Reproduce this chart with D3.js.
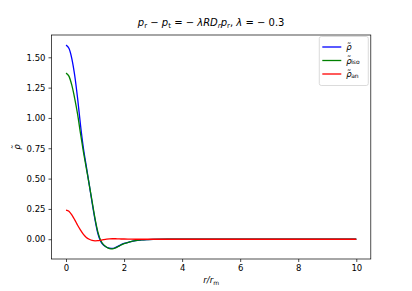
<!DOCTYPE html>
<html>
<head>
<meta charset="utf-8">
<script src="https://cdn.jsdelivr.net/npm/d3@7"></script>
<style>
  body { margin: 0; background: #fff; }
  svg text { font-family: "DejaVu Sans", sans-serif; }
</style>
</head>
<body>
<div id="chart"></div>
<script>
// Radius values (r / r_m) and the three density profiles
const rValues = [0, 0.1, 0.2, 0.3, 0.4, 0.5, 0.6, 0.7, 0.8, 0.9, 1.0, 1.1, 1.2, 1.3, 1.4, 1.5, 1.6, 1.7, 1.8, 1.9, 2.0, 2.2, 2.4, 2.6, 2.8, 3.0, 3.5, 4, 5, 6, 7, 8, 9, 10];
const rhoTotal = [1.60, 1.575, 1.49, 1.35, 1.16, 0.94, 0.75, 0.60, 0.45, 0.30, 0.16, 0.045, -0.02, -0.05, -0.066, -0.074, -0.076, -0.069, -0.057, -0.045, -0.035, -0.021, -0.011, -0.006, -0.003, -0.001, 0, 0, 0, 0, 0, 0, 0, 0];
const rhoIso = [1.37, 1.345, 1.27, 1.16, 1.03, 0.87, 0.72, 0.585, 0.45, 0.31, 0.17, 0.057, -0.012, -0.047, -0.066, -0.077, -0.079, -0.072, -0.06, -0.047, -0.037, -0.022, -0.012, -0.006, -0.003, -0.001, 0, 0, 0, 0, 0, 0, 0, 0];
const rhoAn = [0.24, 0.23, 0.20, 0.16, 0.115, 0.075, 0.04, 0.015, 0.0, -0.01, -0.013, -0.012, -0.008, -0.003, 0.001, 0.003, 0.004, 0.004, 0.003, 0.002, 0.002, 0.001, 0, 0, 0, 0, 0, 0, 0, 0, 0, 0, 0, 0];

const xTicks = [0, 2, 4, 6, 8, 10];
const yTicks = [0, 0.25, 0.5, 0.75, 1.0, 1.25, 1.5];

const seriesNames = ["total", "iso", "an"];
const seriesColors = ["#0000ff", "#008000", "#ff0000"];

// Set dimensions and margins for the chart
const margin = { top: 35, right: 41.2, bottom: 32, left: 51.5 };
const width = 412 - margin.left - margin.right;
const height = 291 - margin.top - margin.bottom;

const svg = d3.select("#chart")
  .append("svg")
    .attr("width", 412)
    .attr("height", 291)
  .append("g")
    .attr("transform", `translate(${margin.left},${margin.top})`);

// Scales with matplotlib style 5% padding
const allValues = rhoTotal.concat(rhoIso, rhoAn);
const xExt = d3.extent(rValues);
const yExt = d3.extent(allValues);
const xPad = (xExt[1] - xExt[0]) * 0.05;
const yPad = (yExt[1] - yExt[0]) * 0.05;

const x = d3.scaleLinear()
  .domain([xExt[0] - xPad, xExt[1] + xPad])
  .range([0, width]);

const y = d3.scaleLinear()
  .domain([yExt[0] - yPad, yExt[1] + yPad])
  .range([height, 0]);

// Axes
svg.append("g")
  .attr("transform", `translate(0,${height})`)
  .call(d3.axisBottom(x)
    .tickValues(xTicks)
    .tickFormat(d3.format("d"))
    .tickSize(3)
    .tickPadding(3))
  .call(g => g.select(".domain").remove());

svg.append("g")
  .call(d3.axisLeft(y)
    .tickValues(yTicks)
    .tickFormat(d3.format(".2f"))
    .tickSize(3)
    .tickPadding(3))
  .call(g => g.select(".domain").remove());

svg.selectAll(".tick text")
  .attr("font-size", 8.5)
  .attr("fill", "#000")
  .style("font-family", "DejaVu Sans");
svg.selectAll(".tick line")
  .attr("stroke", "#000")
  .attr("stroke-width", 0.7);

// Lines
const line = d3.line()
  .x(d => x(d[0]))
  .y(d => y(d[1]))
  .curve(d3.curveMonotoneX);

const seriesData = [rhoTotal, rhoIso, rhoAn];
seriesData.forEach((vals, i) => {
  svg.append("path")
    .datum(rValues.map((r, j) => [r, vals[j]]))
    .attr("fill", "none")
    .attr("stroke", seriesColors[i])
    .attr("stroke-width", 1.3)
    .attr("d", line);
});

// Frame
svg.append("rect")
  .attr("width", width)
  .attr("height", height)
  .attr("fill", "none")
  .attr("stroke", "#000")
  .attr("stroke-width", 0.7);

// Title
const title = svg.append("text")
  .attr("x", width / 2)
  .attr("y", -9)
  .attr("text-anchor", "middle")
  .attr("font-size", 10);
function piece(t, txt, opts) {
  const s = t.append("tspan").text(txt);
  if (opts && opts.italic) s.attr("font-style", "italic");
  if (opts && opts.sub) s.attr("font-size", opts.size || 7).attr("dy", opts.dy);
  if (opts && opts.reset) s.attr("dy", opts.reset);
  return s;
}
// italic rho with a tilde placed above it
function rhoTilde(t, fs) {
  t.append("tspan").attr("font-style", "italic").text("\u03c1");
  t.append("tspan").attr("dx", -0.56 * fs).attr("dy", -0.12 * fs).text("\u02dc");
  t.append("tspan").attr("dx", 0.06 * fs).attr("dy", 0.12 * fs).text("");
}
piece(title, "p", { italic: true });
piece(title, "r", { sub: true, dy: 2 });
piece(title, " \u2212 ", { reset: -2 });
piece(title, "p", { italic: true });
piece(title, "t", { sub: true, dy: 2 });
piece(title, " = \u2212 ", { reset: -2 });
piece(title, "\u03bbRD", { italic: true });
piece(title, "r", { sub: true, dy: 2, italic: true }).attr("font-style", "italic");
piece(title, "p", { italic: true, reset: -2 });
piece(title, "r", { sub: true, dy: 2 });
piece(title, ", ", { reset: -2 });
piece(title, "\u03bb", { italic: true });
piece(title, " = \u2212 0.3");

// Axis labels
const xl = svg.append("text")
  .attr("x", width / 2)
  .attr("y", height + 24)
  .attr("text-anchor", "middle")
  .attr("font-size", 8.5);
piece(xl, "r/r", { italic: true });
piece(xl, "m", { sub: true, size: 6, dy: 2 });

const yl = svg.append("text")
  .attr("transform", `translate(${-32},${height / 2}) rotate(-90)`)
  .attr("text-anchor", "middle")
  .attr("font-size", 8.5);
rhoTilde(yl, 8.5);

// Legend
const legW = 49, legH = 49;
const legend = svg.append("g")
  .attr("transform", `translate(${width - legW - 2.5},${1.5})`);
legend.append("rect")
  .attr("width", legW)
  .attr("height", legH)
  .attr("rx", 2)
  .attr("fill", "#fff")
  .attr("fill-opacity", 0.8)
  .attr("stroke", "#cccccc")
  .attr("stroke-width", 0.7);

const legendSubs = ["", "iso", "an"];
seriesNames.forEach((name, i) => {
  const yy = 10.5 + i * 13.5;
  legend.append("line")
    .attr("x1", 3).attr("x2", 22)
    .attr("y1", yy).attr("y2", yy)
    .attr("stroke", seriesColors[i])
    .attr("stroke-width", 1.3);
  const t = legend.append("text")
    .attr("x", 27)
    .attr("y", yy + 3)
    .attr("font-size", 8.5);
  rhoTilde(t, 8.5);
  if (legendSubs[i]) piece(t, legendSubs[i], { sub: true, size: 6, dy: 2 });
});
</script>
</body>
</html>
